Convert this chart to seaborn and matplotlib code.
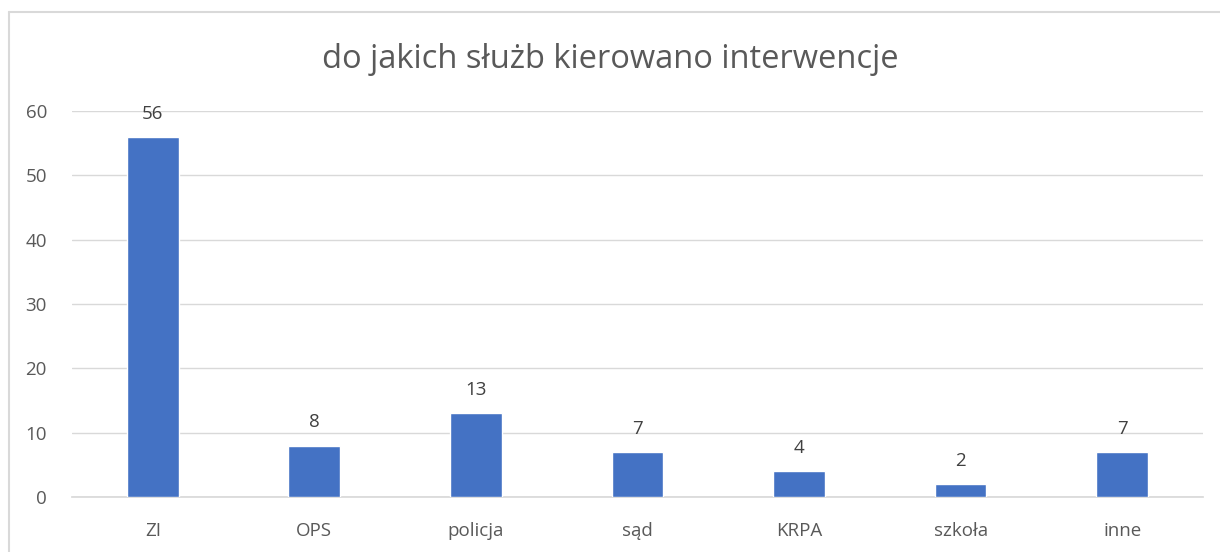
import matplotlib
matplotlib.use("Agg")
import matplotlib.pyplot as plt
from matplotlib.lines import Line2D
import seaborn as sns
import pandas as pd

# dane z wykresu
categories = ["ZI", "OPS", "policja", "sąd", "KRPA", "szkoła", "inne"]
values = [56, 8, 13, 7, 4, 2, 7]

df = pd.DataFrame({"sluzba": categories, "liczba": values})

sns.set_theme(style="white")
plt.rcParams["font.family"] = ["Open Sans", "DejaVu Sans"]

fig = plt.figure(figsize=(12.2, 5.52), dpi=100)
ax = fig.add_axes([0.059, 0.0996, 0.927, 0.699])

sns.barplot(x="sluzba", y="liczba", data=df, color="#4472C4", width=0.32,
            saturation=1, ax=ax, zorder=3)

ax.set_ylim(0, 60)
ax.set_yticks(range(0, 61, 10))
ax.yaxis.grid(True, color="#D9D9D9", linewidth=1, zorder=0)
ax.set_xlabel("")
ax.set_ylabel("")
for s in ["top", "right", "left"]:
    ax.spines[s].set_visible(False)
ax.spines["bottom"].set_color("#D9D9D9")
ax.tick_params(axis="y", length=0, labelsize=13.5, labelcolor="#595959", pad=18)
ax.tick_params(axis="x", length=0, labelsize=13.5, labelcolor="#595959", pad=18)

for i, v in enumerate(values):
    ax.text(i, v + 2.2, str(v), ha="center", va="bottom", fontsize=13.5, color="#404040")

fig.text(0.5, 0.893, "do jakich służb kierowano interwencje", ha="center", va="center",
         fontsize=23.5, color="#595959")

# ramka wykresu (góra i lewa strona)
fig.add_artist(Line2D([9 / 1220, 1], [540 / 552, 540 / 552], color="#D9D9D9", lw=1.5))
fig.add_artist(Line2D([9 / 1220, 9 / 1220], [0, 540 / 552], color="#D9D9D9", lw=1.5))

fig.savefig("out.png", dpi=100)
